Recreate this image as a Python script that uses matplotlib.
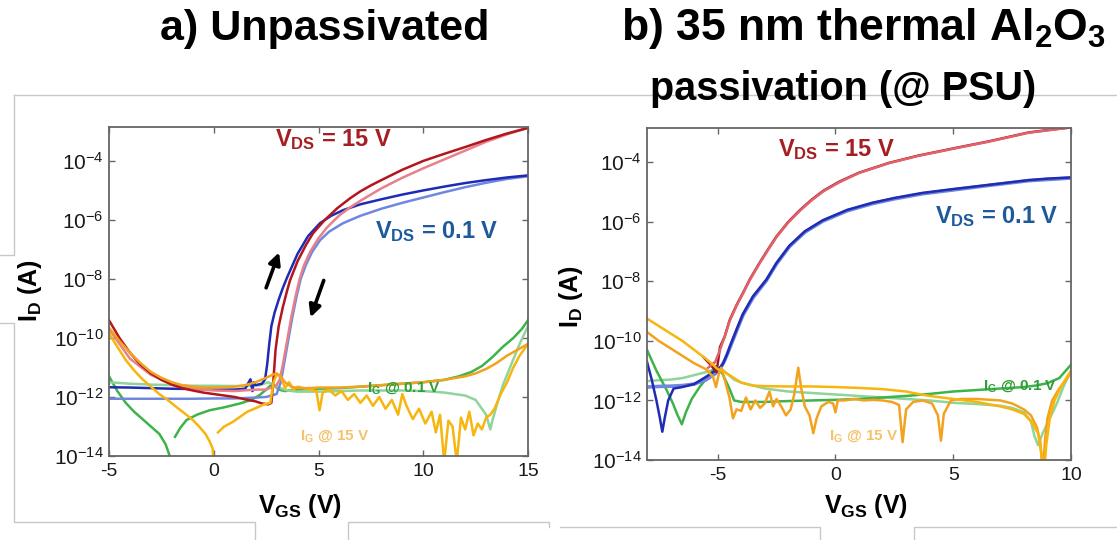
import numpy as np
import matplotlib
matplotlib.use("Agg")
import matplotlib.pyplot as plt
from matplotlib.lines import Line2D

plt.rcParams.update({
    "font.family": ["Liberation Sans", "DejaVu Sans"],
    "mathtext.fontset": "custom",
    "mathtext.rm": "Liberation Sans",
    "mathtext.it": "Liberation Sans:italic",
    "mathtext.bf": "Liberation Sans:bold",
    "mathtext.sf": "Liberation Sans",
    "axes.unicode_minus": False,
})

# ---------------- data: V_GS (V) and log10 of current (A) ----------------
# (a) unpassivated
a_red_fwd_v = [-5, -4.5, -4, -3.5, -3, -2.5, -2, -1.5, -1, -0.5, 0, 0.5, 1, 1.5, 2, 2.3, 2.6, 2.75,
               2.85, 2.95, 3.1, 3.3, 3.5, 3.64, 4.0, 4.4, 4.74, 5.3, 5.9, 6.5, 7, 7.5, 8, 9, 10, 11,
               12, 13, 14, 15]
a_red_fwd_i = [-9.4, -10.0, -10.5, -10.9, -11.2, -11.42, -11.58, -11.7, -11.78, -11.85, -11.9, -11.95,
               -12.0, -12.08, -12.15, -12.22, -12.25, -12.2, -11.4, -10.4, -9.6, -8.95, -8.4, -8.05,
               -7.4, -6.85, -6.45, -6.0, -5.6, -5.27, -5.03, -4.83, -4.65, -4.3, -4.0, -3.76, -3.53,
               -3.29, -3.07, -2.88]

a_red_rev_v = [15, 14, 13, 12, 11, 10, 9, 8, 7, 6.5, 6, 5.4, 5.0, 4.6, 4.3, 4.1, 3.9, 3.7, 3.5, 3.3,
               3.15, 3.0, 2.5, 2, 1, 0, -1, -2, -3, -4, -5]
a_red_rev_i = [-2.88, -3.1, -3.35, -3.65, -3.95, -4.25, -4.57, -4.93, -5.35, -5.58, -5.84, -6.26,
               -6.62, -7.08, -7.55, -8.0, -8.6, -9.3, -10.1, -10.9, -11.4, -11.6, -11.75, -11.75,
               -11.8, -11.78, -11.72, -11.55, -11.25, -10.7, -9.7]

a_blue_fwd_v = [-5, -4, -3, -2, -1, 0, 1, 1.5, 1.75, 1.85, 1.9, 2.0, 2.3, 2.45, 2.55, 2.65, 2.75,
                2.9, 3.1, 3.3, 3.5, 3.75, 4.0, 4.5, 5.07, 5.6, 6.17, 7, 8, 9, 10, 11, 12, 13, 14, 15]
a_blue_fwd_i = [-11.67, -11.68, -11.7, -11.72, -11.73, -11.75, -11.75, -11.72, -11.4, -11.8, -11.5,
                -11.6, -11.55, -11.4, -10.9, -10.2, -9.6, -9.15, -8.7, -8.3, -7.95, -7.55, -7.15,
                -6.55, -6.11, -5.86, -5.67, -5.47, -5.3, -5.14, -5.0, -4.87, -4.75, -4.65, -4.56,
                -4.49]

a_blue_rev_v = [15, 14, 13, 12, 11, 10, 9, 8, 7, 6.17, 5.5, 5.07, 4.7, 4.4, 4.15, 3.95, 3.75, 3.55,
                3.35, 3.2, 3.0, 2.5, 2, 1, 0, -1, -2, -3, -4, -5]
a_blue_rev_i = [-4.52, -4.61, -4.74, -4.89, -5.06, -5.24, -5.42, -5.62, -5.86, -6.11, -6.4, -6.69,
                -7.08, -7.52, -8.0, -8.6, -9.3, -10.1, -10.9, -11.5, -11.9, -12.0, -12.02, -12.05,
                -12.05, -12.06, -12.06, -12.06, -12.06, -12.06]

a_ig01_fwd_v1 = [-5, -4.6, -4.2, -3.8, -3.4, -3.0, -2.6, -2.3, -2.1, -2.0]
a_ig01_fwd_i1 = [-11.3, -11.8, -12.2, -12.5, -12.75, -13.0, -13.25, -13.6, -14.0, -14.6]
a_ig01_fwd_v2 = [-1.85, -1.6, -1.3, -0.8, -0.2, 0.5, 1.25, 1.8, 2.2, 2.5, 2.8, 3.1, 3.4, 4, 5, 6, 7,
                 8, 9, 10, 11, 11.7, 12.3, 12.8, 13.3, 13.8, 14.3, 14.7, 15]
a_ig01_fwd_i2 = [-13.35, -13.05, -12.78, -12.6, -12.45, -12.35, -12.22, -12.1, -11.93, -11.75,
                 -11.55, -11.75, -11.8, -11.75, -11.72, -11.7, -11.65, -11.6, -11.55, -11.5, -11.42,
                 -11.3, -11.15, -10.95, -10.65, -10.3, -10.0, -9.7, -9.4]
a_ig01_rev_v = [15, 14.6, 14.2, 13.8, 13.5, 13.3, 13.2, 13.0, 12.5, 12, 11, 10, 9, 8, 7, 6, 5, 4,
                3.5, 3, 2.6, 2.2, 1.8, 1, 0, -1, -2, -3, -4, -5]
a_ig01_rev_i = [-9.6, -10.2, -10.9, -11.6, -12.3, -12.8, -13.1, -12.6, -12.1, -11.95, -11.85, -11.8,
                -11.78, -11.78, -11.78, -11.8, -11.82, -11.82, -11.78, -11.65, -11.5, -11.6, -11.62,
                -11.63, -11.62, -11.62, -11.6, -11.58, -11.55, -11.5]

a_ig15_fwd_v = [-5, -4.5, -4, -3.5, -3, -2.5, -2, -1.5, -1, -0.5, 0, 0.5, 1, 1.5, 2, 2.5, 2.8, 3.0,
                3.2, 3.4, 3.7, 4.0, 4.5, 5, 6, 7, 8, 9, 10, 11, 12, 12.5, 13, 13.5, 14, 14.5, 15]
a_ig15_fwd_i = [-9.65, -10.1, -10.5, -10.85, -11.15, -11.35, -11.5, -11.6, -11.65, -11.68, -11.68,
                -11.67, -11.65, -11.6, -11.5, -11.35, -11.25, -11.2, -11.3, -11.5, -11.65, -11.7,
                -11.7, -11.68, -11.68, -11.65, -11.6, -11.55, -11.5, -11.42, -11.3, -11.2, -11.05,
                -10.85, -10.6, -10.4, -10.2]
a_ig15_rev_v1 = [-5, -4.6, -4.2, -3.8, -3.4, -3.0, -2.6, -2.2, -1.8, -1.4, -1.0, -0.7, -0.4, -0.2,
                 -0.05, 0.0]
a_ig15_rev_i1 = [-9.85, -10.3, -10.75, -11.1, -11.4, -11.65, -11.9, -12.1, -12.33, -12.55, -12.78,
                 -13.0, -13.25, -13.5, -13.75, -14.5]
a_ig15_rev_v2 = [0.2, 0.5, 0.9, 1.3, 1.6, 2.0, 2.4, 2.7, 2.85, 3.0, 3.2, 3.4, 3.6, 3.8, 4.0, 4.3,
                 4.6, 4.9, 5.05, 5.2, 5.5, 5.8, 6.1, 6.4, 6.7, 7.0, 7.3, 7.6, 7.9, 8.2, 8.5, 8.8,
                 9.0, 9.2, 9.5, 9.8, 10.1, 10.4, 10.6, 10.8, 11.0, 11.2, 11.4, 11.6, 11.8, 12.0,
                 12.2, 12.4, 12.6, 12.8, 13.0, 13.2, 13.4, 13.7, 14.0, 14.3, 14.6, 15]
a_ig15_rev_i2 = [-13.2, -13.0, -12.85, -12.65, -12.5, -12.38, -12.25, -12.2, -11.5, -11.25, -11.3,
                 -11.7, -11.5, -11.75, -11.65, -11.7, -11.75, -11.8, -12.45, -11.85, -11.75, -11.95,
                 -11.8, -12.1, -11.9, -12.2, -11.95, -12.3, -12.0, -12.4, -12.1, -12.6, -11.9,
                 -12.3, -12.75, -12.4, -12.9, -12.5, -13.2, -12.6, -14.2, -12.8, -13.0, -14.2,
                 -12.7, -13.1, -12.5, -13.3, -12.9, -13.1, -12.7, -12.6, -12.4, -11.9, -11.5,
                 -11.0, -10.6, -10.2]

# (b) 35 nm thermal Al2O3 passivation
b_red_fwd_v = [-5.6, -5.3, -5.05, -4.95, -4.9, -4.7, -4.49, -4.2, -3.9, -3.64, -3.2, -2.8, -2.51,
               -2.0, -1.5, -1.0, -0.5, 0.17, 1, 2.28, 3.5, 5.1, 6.5, 8.2, 9, 10]
b_red_fwd_i = [-10.55, -10.8, -11.05, -10.5, -10.2, -9.85, -9.3, -8.8, -8.35, -7.94, -7.35, -6.85,
               -6.5, -6.0, -5.6, -5.25, -4.95, -4.65, -4.35, -4.02, -3.78, -3.52, -3.3, -3.0, -2.92,
               -2.83]
b_red_rev_v = [10, 9, 8.2, 6.5, 5.1, 3.5, 2.28, 1, 0.17, -0.5, -1.0, -1.5, -2.0, -2.51, -2.8, -3.2,
               -3.64, -3.9, -4.2, -4.49, -4.7, -4.9, -5.1, -5.4]
b_red_rev_i = [-2.83, -2.93, -3.01, -3.31, -3.53, -3.79, -4.03, -4.36, -4.67, -4.97, -5.27, -5.62,
               -6.02, -6.52, -6.87, -7.37, -7.96, -8.37, -8.82, -9.33, -9.85, -10.3, -10.7, -10.9]

b_blue_fwd_v = [-8, -7.8, -7.6, -7.45, -7.35, -7.25, -7.1, -6.87, -6.5, -6.0, -5.48, -5.2, -4.95,
                -4.77, -4.6, -4.49, -4.2, -3.93, -3.5, -2.93, -2.5, -1.95, -1.3, -0.54, 0.5, 1.57,
                2.5, 3.69, 5, 6.5, 8.2, 9, 10]
b_blue_fwd_i = [-10.7, -11.3, -12.0, -12.6, -13.05, -12.6, -12.0, -11.6, -11.55, -11.45, -11.2,
                -11.05, -10.95, -10.76, -10.45, -10.2, -9.62, -9.1, -8.5, -7.94, -7.38, -6.8,
                -6.32, -5.95, -5.6, -5.36, -5.2, -5.03, -4.9, -4.76, -4.6, -4.55, -4.51]
b_blue_rev_v = [10, 8.2, 6.5, 5, 3.69, 2.5, 1.57, 0.5, -0.54, -1.3, -1.95, -2.5, -2.93, -3.5,
                -3.93, -4.2, -4.49, -4.7, -4.9, -5.1, -5.48, -6.0, -6.5, -7.0, -7.5, -8]
b_blue_rev_i = [-4.53, -4.62, -4.78, -4.93, -5.06, -5.23, -5.39, -5.63, -5.98, -6.35, -6.83, -7.41,
                -7.97, -8.55, -9.14, -9.67, -10.25, -10.65, -10.95, -11.1, -11.3, -11.45, -11.5,
                -11.52, -11.53, -11.55]

b_ig01_fwd_v = [-8, -7.6, -7.2, -6.9, -6.7, -6.52, -6.35, -6.1, -5.75, -5.4, -5.07, -4.8, -4.5,
                -4.3, -4.0, -3, -2, -1, 0, 1, 2, 3, 4, 5, 6, 7, 8, 8.5, 9, 9.5, 10]
b_ig01_fwd_i = [-10.3, -11.0, -11.6, -12.1, -12.5, -12.8, -12.4, -11.95, -11.53, -11.2, -10.85,
                -11.1, -11.6, -12.0, -12.05, -12.05, -12.02, -12.0, -11.98, -11.95, -11.9, -11.85,
                -11.78, -11.7, -11.65, -11.6, -11.55, -11.5, -11.42, -11.25, -10.8]
b_ig01_rev_v = [10, 9.7, 9.4, 9.1, 8.8, 8.6, 8.45, 8.3, 8.0, 7.5, 7, 6, 5, 4, 3, 2, 1, 0, -1, -2,
                -3, -4, -4.3, -4.6, -4.9, -5.1, -5.5, -6, -6.5, -7, -7.5, -8]
b_ig01_rev_i = [-11.0, -11.5, -12.1, -12.6, -13.1, -13.5, -13.2, -12.7, -12.4, -12.25, -12.18,
                -12.12, -12.08, -12.0, -11.95, -11.9, -11.85, -11.8, -11.75, -11.7, -11.6, -11.4,
                -11.3, -11.1, -10.9, -10.95, -11.05, -11.15, -11.25, -11.3, -11.32, -11.35]

b_ig15_a_v = [-8, -7.5, -7, -6.5, -6, -5.5, -5.2, -5.0, -4.8, -4.5, -4.2, -4.0, -3.5, -3.0, -2,
              -1, 0, 1, 2, 3, 3.5, 4, 5, 6, 7, 7.5, 8, 8.3, 8.6, 8.75, 8.85, 8.95, 9.1, 9.3, 9.6, 10]
b_ig15_a_i = [-9.25, -9.5, -9.75, -10.0, -10.3, -10.6, -10.8, -10.95, -11.0, -11.15, -11.3, -11.4,
              -11.5, -11.52, -11.53, -11.53, -11.55, -11.58, -11.62, -11.7, -11.78, -11.85, -11.95,
              -12.05, -12.2, -12.3, -12.45, -12.7, -13.1, -13.8, -14.5, -13.5, -12.6, -12.0,
              -11.5, -11.0]
b_ig15_b_v = [-8, -7.5, -7, -6.5, -6, -5.5, -5.2, -5.07, -4.95, -4.85, -4.7, -4.5, -4.35, -4.2,
              -4.0, -3.8, -3.6, -3.4, -3.2, -3.0, -2.8, -2.65, -2.5, -2.3, -2.1, -1.9, -1.75,
              -1.58, -1.45, -1.3, -1.1, -0.94, -0.8, -0.6, -0.3, -0.1, 0.0, 0.1, 0.4, 0.8, 1.2,
              1.6, 2.0, 2.4, 2.7, 2.85, 3.0, 3.3, 3.7, 4.1, 4.35, 4.48, 4.6, 4.9, 5.3, 6, 7, 7.5,
              8, 8.3, 8.55, 8.7, 8.8, 8.9, 9.0, 9.2, 9.5, 9.8, 10]
b_ig15_b_i = [-9.7, -10.0, -10.25, -10.5, -10.75, -10.95, -11.2, -11.55, -11.1, -10.9, -11.3,
              -11.9, -12.6, -12.3, -12.35, -11.9, -12.3, -12.0, -12.25, -12.1, -11.7, -12.2,
              -11.95, -12.2, -12.5, -12.3, -11.8, -10.9, -11.6, -12.2, -12.5, -13.1, -12.6,
              -12.2, -12.05, -12.1, -12.4, -12.0, -12.0, -11.95, -12.0, -11.98, -12.0, -12.05,
              -12.15, -13.4, -12.3, -12.05, -12.0, -12.1, -12.5, -13.35, -12.45, -12.0, -11.95,
              -11.95, -12.0, -12.1, -12.3, -12.5, -12.9, -13.4, -14.5, -13.3, -12.6, -12.0,
              -11.6, -11.3, -11.05]

y_exponents = [-14, -12, -10, -8, -6, -4]
a_xticks = [-5, 0, 5, 10, 15]
b_xticks = [-5, 0, 5, 10]

# ---------------- colours ----------------
C_RED = "#b3161c"
C_PINK = "#e8808a"
C_RED_B = "#e2616a"
C_BLUE = "#1f2bb3"
C_LBLUE = "#6f88de"
C_GREEN = "#3db34a"
C_LGREEN = "#8fd49a"
C_ORANGE = "#f3a21f"
C_GOLD = "#f7b50e"
C_GRID = "#c8c8c8"

W, H = 1117, 540
fig = plt.figure(figsize=(W / 100, H / 100), dpi=100)
fig.patch.set_facecolor("white")


def px_axes(x0, y0, x1, y1):
    return fig.add_axes([x0 / W, 1 - y1 / H, (x1 - x0) / W, (y1 - y0) / H])


def frame_line(xs, ys):
    fig.add_artist(Line2D([x / W for x in xs], [1 - y / H for y in ys],
                          transform=fig.transFigure, color=C_GRID, lw=1.0, zorder=0))


# faint slide frame lines
frame_line([14, 1117], [95, 95])
frame_line([0, 14, 14], [255, 255, 95])
frame_line([0, 14, 14, 255, 255], [323, 323, 522, 522, 540])
frame_line([348, 348, 549, 549], [540, 522, 522, 527])
frame_line([560, 820, 820], [527, 527, 540])
frame_line([914, 914, 1117], [540, 527, 527])

axA = px_axes(109, 127, 528, 456)
axB = px_axes(647, 128, 1071, 460)


def lp(ax, v, i, color, lw=1.8, z=2):
    ax.plot(v, np.power(10.0, i), color=color, lw=lw, zorder=z, solid_joinstyle="round")


# panel (a)
lp(axA, a_ig01_fwd_v1, a_ig01_fwd_i1, C_GREEN)
lp(axA, a_ig01_fwd_v2, a_ig01_fwd_i2, C_GREEN)
lp(axA, a_ig01_rev_v, a_ig01_rev_i, C_LGREEN)
lp(axA, a_blue_rev_v, a_blue_rev_i, C_LBLUE)
lp(axA, a_blue_fwd_v, a_blue_fwd_i, C_BLUE)
lp(axA, a_red_rev_v, a_red_rev_i, C_PINK)
lp(axA, a_red_fwd_v, a_red_fwd_i, C_RED)
lp(axA, a_ig15_rev_v1, a_ig15_rev_i1, C_GOLD)
lp(axA, a_ig15_rev_v2, a_ig15_rev_i2, C_GOLD)
lp(axA, a_ig15_fwd_v, a_ig15_fwd_i, C_ORANGE)

# panel (b)
lp(axB, b_ig01_rev_v, b_ig01_rev_i, C_LGREEN)
lp(axB, b_ig01_fwd_v, b_ig01_fwd_i, C_GREEN)
lp(axB, b_blue_rev_v, b_blue_rev_i, C_LBLUE, lw=2.6)
lp(axB, b_blue_fwd_v, b_blue_fwd_i, C_BLUE)
lp(axB, b_red_fwd_v, b_red_fwd_i, "#9c1a22")
lp(axB, b_red_rev_v, b_red_rev_i, C_RED_B)
lp(axB, b_ig15_b_v, b_ig15_b_i, C_ORANGE)
lp(axB, b_ig15_a_v, b_ig15_a_i, C_GOLD)

for ax, xl, xt in ((axA, (-5, 15), a_xticks), (axB, (-8, 10), b_xticks)):
    ax.set_yscale("log")
    ax.set_xlim(*xl)
    ax.set_ylim(1e-14, 10 ** -2.85)
    ax.set_yticks([10.0 ** e for e in y_exponents])
    ax.set_yticklabels([r"$10^{%d}$" % e for e in y_exponents])
    ax.yaxis.set_minor_locator(matplotlib.ticker.NullLocator())
    ax.set_xticks(xt)
    ax.set_xticklabels([str(t) for t in xt])
    ax.tick_params(axis="both", direction="in", length=4.5, width=1.0, color="#666666",
                   top=True, right=True, labelsize=14, labelcolor="#1a1a1a", pad=5)
    ax.tick_params(axis="y", labelsize=15, pad=4)
    for s in ax.spines.values():
        s.set_color("#666666")
        s.set_linewidth(1.3)

# arrows marking sweep direction
arrow = dict(arrowstyle="-|>,head_length=0.7,head_width=0.35", color="black", lw=2.6,
             shrinkA=0, shrinkB=0)
axA.annotate("", xy=(3.12, 10 ** -7.1), xytext=(2.5, 10 ** -8.3), arrowprops=arrow)
axA.annotate("", xy=(4.62, 10 ** -9.3), xytext=(5.25, 10 ** -8.05), arrowprops=arrow)

# curve labels
lab = dict(fontsize=17, fontweight="bold", va="baseline", ha="left")
axA.text(0.396, 0.942, r"$\mathbf{V_{DS}}$ = 15 V", color="#a41e22", transform=axA.transAxes, **lab)
axA.text(0.635, 0.663, r"$\mathbf{V_{DS}}$ = 0.1 V", color="#1d5a9c", transform=axA.transAxes, **lab)
axB.text(0.309, 0.916, r"$\mathbf{V_{DS}}$ = 15 V", color="#a41e22", transform=axB.transAxes, **lab)
axB.text(0.679, 0.714, r"$\mathbf{V_{DS}}$ = 0.1 V", color="#1d5a9c", transform=axB.transAxes, **lab)
sm = dict(fontsize=11, fontweight="bold", va="baseline", ha="left")
axA.text(0.616, 0.195, r"$\mathbf{I_G}$ @ 0.1 V", color="#2f9e36", transform=axA.transAxes, **sm)
axA.text(0.456, 0.049, r"$\mathbf{I_G}$ @ 15 V", color="#f6c26c", transform=axA.transAxes, **sm)
axB.text(0.792, 0.211, r"$\mathbf{I_G}$ @ 0.1 V", color="#2f9e36", transform=axB.transAxes, **sm)
axB.text(0.429, 0.060, r"$\mathbf{I_G}$ @ 15 V", color="#f6c26c", transform=axB.transAxes, **sm)

# axis labels
for x, y in ((30, 291), (571, 297)):
    fig.text(x / W, 1 - y / H, r"$\mathbf{I_D}$ (A)", rotation=90, fontsize=18,
             fontweight="bold", ha="center", va="center")
for x, y in ((300, 506), (866, 506)):
    fig.text(x / W, 1 - y / H, r"$\mathbf{V_{GS}}$ (V)", fontsize=18,
             fontweight="bold", ha="center", va="center")

# panel titles
fig.text(325 / W, 1 - 40 / H, "a) Unpassivated", fontsize=31, fontweight="bold",
         ha="center", va="baseline")
fig.text(864 / W, 1 - 40 / H, r"b) 35 nm thermal Al$_{\mathbf{2}}$O$_{\mathbf{3}}$", fontsize=32,
         fontweight="bold", ha="center", va="baseline")
fig.text(843 / W, 1 - 100 / H, "passivation (@ PSU)", fontsize=28.5, fontweight="bold",
         ha="center", va="baseline")

fig.savefig("out.png", dpi=100, facecolor="white")
